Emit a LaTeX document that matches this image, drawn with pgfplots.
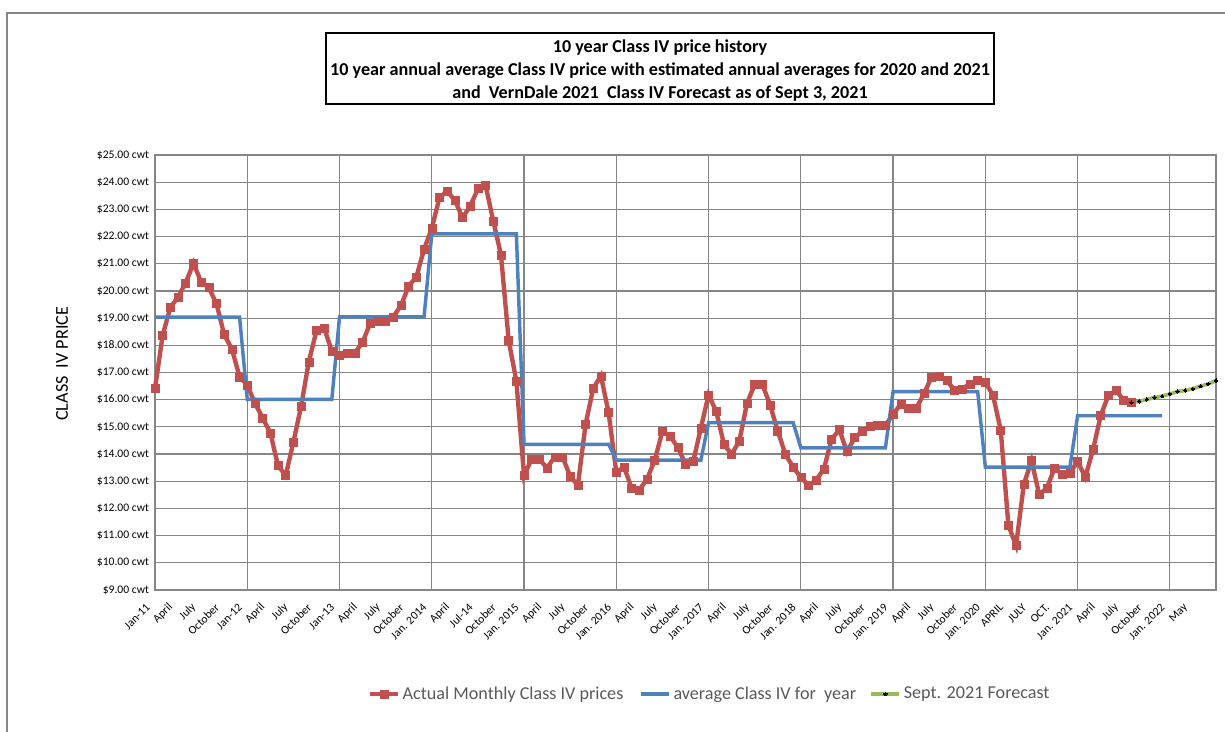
\documentclass[border=0pt]{standalone}
\usepackage{fontspec}
\setmainfont{Carlito}
\usepackage{pgfplots}
\pgfplotsset{compat=1.18}
\definecolor{redS}{HTML}{C0504D}
\definecolor{blueS}{HTML}{4F81BD}
\definecolor{greenS}{HTML}{9BBB59}
\definecolor{gridc}{HTML}{868686}
\definecolor{legtext}{HTML}{595959}
\begin{document}
\begin{tikzpicture}
\begin{scope}[x=0.75pt,y=-0.75pt]
\path[use as bounding box] (0,0) rectangle (1225,732);
\draw[gridc, line width=1.5pt] (7,732) -- (7,13) -- (1225,13);
\draw[black, line width=0.8pt] (326,33) rectangle (994,104);
\node[align=center, inner sep=0pt,
      font=\bfseries\fontsize{13.6}{17.3}\selectfont] at (660,70.5)
  {10 year Class IV price history\\
   10 year annual average Class IV price with estimated annual averages for 2020 and 2021\\
   and\ \ VernDale 2021\ \ Class IV Forecast as of Sept 3, 2021};
\end{scope}
\begin{axis}[
  at={(116.25pt,-442.5pt)}, anchor=south west,
  width=795.75pt, height=326.25pt, scale only axis,
  xmin=0, xmax=138, ymin=9, ymax=25,
  clip=false,
  /pgf/number format/assume math mode=true,
  xtick={0,3,...,135},
  xticklabels={Jan-11,April,July,October,Jan-12,April,July,October,Jan-13,April,July,October,
    Jan. 2014,April,Jul-14,October,Jan. 2015,April,July,October,Jan. 2016,April,July,October,
    Jan. 2017,April,July,October,Jan. 2018,April,July,October,Jan. 2019,April,July,October,
    Jan. 2020,APRIL,JULY,OCT.,Jan. 2021,April,July,October,Jan. 2022,May},
  minor xtick={12,24,...,132},
  xminorgrids=true,
  ytick={9,10,...,25},
  yticklabels={\$9.00 cwt,\$10.00 cwt,\$11.00 cwt,\$12.00 cwt,\$13.00 cwt,\$14.00 cwt,\$15.00 cwt,
    \$16.00 cwt,\$17.00 cwt,\$18.00 cwt,\$19.00 cwt,\$20.00 cwt,\$21.00 cwt,\$22.00 cwt,\$23.00 cwt,
    \$24.00 cwt,\$25.00 cwt},
  ymajorgrids=true,
  major grid style={gridc, line width=0.9pt},
  minor grid style={gridc, line width=0.9pt},
  tick style={draw=none},
  axis line style={gridc, line width=0.9pt},
  xticklabel style={yshift=-11pt, xshift=-4.5pt, rotate=45, anchor=east, font=\fontsize{8.7}{10}\selectfont, inner sep=1pt},
  yticklabel style={font=\fontsize{8.7}{10}\selectfont, xshift=-1pt},
  ylabel={CLASS\ \ IV PRICE},
  ylabel style={at={(axis description cs:-0.0877,0.52)}, anchor=center, font=\fontsize{13.6}{16}\selectfont},
  legend columns=3,
  legend image code/.code={\draw[mark repeat=2,mark phase=2,#1] plot coordinates {(0pt,0pt)(10.5pt,0pt)(21pt,0pt)};},
  legend style={at={(0.523,-0.239)}, anchor=center, draw=none, fill=none,
    font=\fontsize{13.6}{16}\selectfont, text=legtext,
    /tikz/every odd column/.append style={column sep=0pt}},
]
\addplot[redS, line width=3.3pt, mark=square*, mark size=3pt,
  mark options={solid, fill=redS, draw=redS, line width=0.4pt}] coordinates {
(0,16.42)(1,18.38)(2,19.39)(3,19.78)(4,20.30)(5,21.02)(6,20.33)(7,20.12)(8,19.53)(9,18.39)(10,17.87)(11,16.84)
(12,16.54)(13,15.87)(14,15.33)(15,14.78)(16,13.57)(17,13.21)(18,14.44)(19,15.75)(20,17.39)(21,18.54)(22,18.64)(23,17.78)
(24,17.63)(25,17.72)(26,17.72)(27,18.12)(28,18.82)(29,18.87)(30,18.90)(31,19.05)(32,19.47)(33,20.18)(34,20.52)(35,21.54)
(36,22.30)(37,23.43)(38,23.67)(39,23.33)(40,22.70)(41,23.12)(42,23.76)(43,23.88)(44,22.57)(45,21.33)(46,18.18)(47,16.69)
(48,13.21)(49,13.82)(50,13.80)(51,13.49)(52,13.90)(53,13.90)(54,13.18)(55,12.85)(56,15.09)(57,16.42)(58,16.88)(59,15.52)
(60,13.33)(61,13.52)(62,12.75)(63,12.68)(64,13.08)(65,13.78)(66,14.84)(67,14.66)(68,14.24)(69,13.63)(70,13.72)(71,14.96)
(72,16.18)(73,15.57)(74,14.36)(75,13.99)(76,14.48)(77,15.87)(78,16.56)(79,16.56)(80,15.81)(81,14.84)(82,13.99)(83,13.51)
(84,13.15)(85,12.84)(86,13.05)(87,13.45)(88,14.54)(89,14.90)(90,14.09)(91,14.60)(92,14.84)(93,15.02)(94,15.05)(95,15.07)
(96,15.45)(97,15.85)(98,15.67)(99,15.67)(100,16.22)(101,16.82)(102,16.88)(103,16.70)(104,16.34)(105,16.40)(106,16.58)(107,16.70)
(108,16.64)(109,16.16)(110,14.88)(111,11.37)(112,10.64)(113,12.88)(114,13.76)(115,12.52)(116,12.74)(117,13.49)(118,13.25)(119,13.31)
(120,13.73)(121,13.15)(122,14.16)(123,15.41)(124,16.16)(125,16.34)(126,15.98)(127,15.89)
};
\addlegendentry{Actual Monthly Class IV prices\rule{10pt}{0pt}}
\addplot[blueS, line width=2.6pt] coordinates {
(0,19.04)(11,19.04)(12,16.01)(23,16.01)(24,19.05)(35,19.05)(36,22.10)(47,22.10)
(48,14.36)(59,14.36)(60,13.78)(71,13.78)(72,15.16)(83,15.16)(84,14.23)(95,14.23)
(96,16.30)(107,16.30)(108,13.52)(119,13.52)(120,15.41)(131,15.41)
};
\addlegendentry{average Class IV for\ \ year\rule{8pt}{0pt}}
\addplot[greenS, line width=2.8pt, mark=*, mark size=1.3pt,
  mark options={solid, fill=black, draw=black, line width=0pt}] coordinates {
(127,15.89)(128,15.94)(129,16.01)(130,16.08)(131,16.13)(132,16.21)(133,16.30)(134,16.34)(135,16.40)(136,16.50)(137,16.58)(138,16.70)
};
\addlegendentry{Sept. 2021 Forecast}
\end{axis}
\end{tikzpicture}
\end{document}
